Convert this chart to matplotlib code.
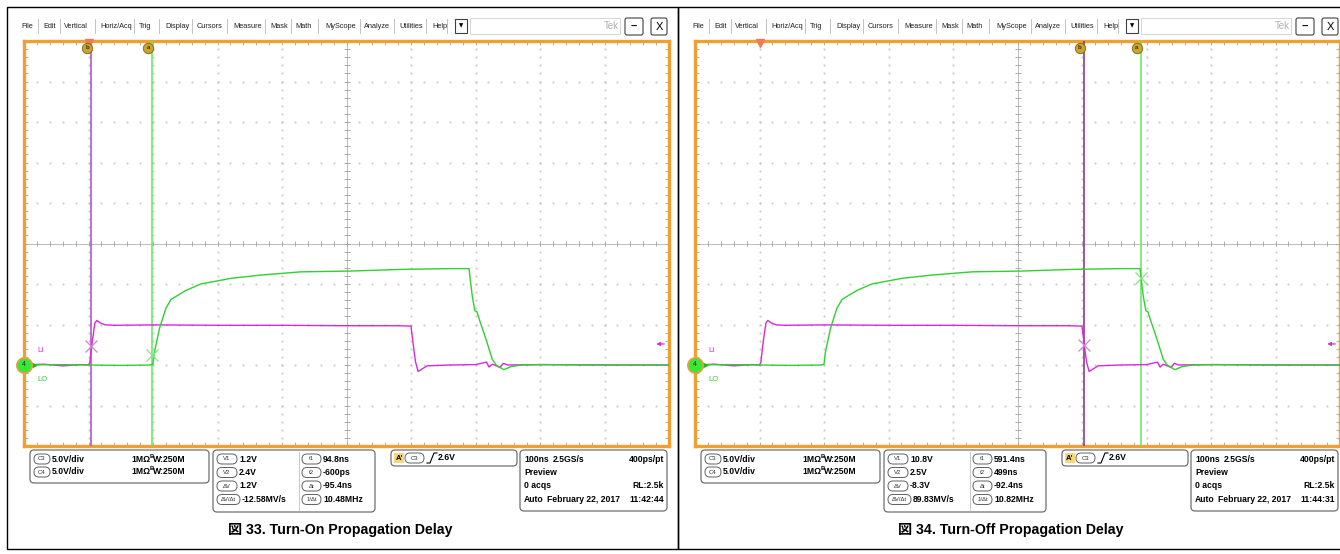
import numpy as np
import matplotlib
matplotlib.use("Agg")
import matplotlib.pyplot as plt
from matplotlib.patches import FancyBboxPatch, Rectangle
from matplotlib.collections import LineCollection

plt.rcParams['font.family'] = ['Liberation Sans', 'Noto Sans CJK JP', 'DejaVu Sans']

W, H = 1340, 554

# ---- waveform data (time in ns, level in V), same signals in both captures ----
mag_t = [-100, -70, -40, -10, 0, 2, 6, 10, 13, 18, 26, 40, 100, 200, 300, 400, 480, 500,
         503.5, 507, 511, 517, 525, 560, 600, 617, 621, 626, 638, 643, 650, 700, 800, 900]
mag_v = [0, 0.1, -0.1, 0.05, 0, 0.3, 3.0, 5.2, 5.5, 5.2, 4.95, 4.9, 4.95, 4.9, 4.9, 4.85, 4.85, 4.8,
         2.5, 0.4, -0.8, -0.5, -0.1, 0, 0.05, 0.35, -0.25, 0.1, -0.3, 0.2, 0, 0.05, 0, 0]

grn_t = [-100, -50, 0, 50, 96, 100, 102, 110, 120, 128, 151, 174, 221, 267, 329, 407, 484, 560, 590,
         591.5, 595, 599, 602, 606, 615, 626, 632, 644, 655, 671, 700, 800, 900]
grn_v = [0, 0.05, 0, -0.05, 0, 0.1, 1.5, 4.5, 7.0, 8.1, 9.2, 10.0, 10.7, 11.1, 11.5, 11.6, 11.8, 11.9, 11.9,
         10.8, 8.5, 6.7, 6.6, 5.6, 3.5, 0.7, 0, -0.58, -0.2, 0, 0.05, 0, 0]

# ---- per-capture settings ----
captions = ["図 33. Turn-On Propagation Delay", "図 34. Turn-Off Propagation Delay"]
cursor_b = [4, 503]
cursor_a = [99, 591]
mark_b_v = [2.4, 2.5]
mark_a_v = [1.2, 10.8]
cursor_b_color = ['#b048c8', '#842a8a']
readout_v = [["1.2V", "2.4V", "1.2V", "-12.58MV/s"], ["10.8V", "2.5V", "-8.3V", "89.83MV/s"]]
readout_t = [["94.8ns", "-600ps", "-95.4ns", "10.48MHz"], ["591.4ns", "499ns", "-92.4ns", "10.82MHz"]]
readout_v_tags = ["V1", "V2", "ΔV", "ΔV/Δt"]
readout_t_tags = ["t1", "t2", "Δt", "1/Δt"]
timestamps = ["11:42:44", "11:44:31"]

menu_items = ["File", "Edit", "Vertical", "Horiz/Acq", "Trig", "Display", "Cursors", "Measure",
              "Mask", "Math", "MyScope", "Analyze", "Utilities", "Help"]
menu_x = [21.5, 43, 64, 100, 139, 165, 197, 233, 270, 295.5, 325, 364, 399, 432]
sep_x = [38, 60, 94.5, 134, 159, 192, 227, 265, 291, 318, 360, 394, 426, 447]

MAG = '#d829d8'
GRN = '#2fd02f'
ORANGE = '#f0a030'
PANEL_DX = 671

fig = plt.figure(figsize=(W / 100, H / 100), dpi=100)
ov = fig.add_axes([0, 0, 1, 1])
ov.set_xlim(0, W)
ov.set_ylim(H, 0)
ov.axis('off')


def rbox(x0, y0, x1, y1, r=4, ec='#707070', fc='white', lw=0.9):
    ov.add_patch(FancyBboxPatch((x0, y0), x1 - x0, y1 - y0,
                                boxstyle=f"round,pad=0,rounding_size={r}",
                                fc=fc, ec=ec, lw=lw))


def tag(x0, x1, y, s):
    rbox(x0, y - 5, x1, y + 5, r=5, ec='#606060', lw=0.7)
    ov.text((x0 + x1) / 2, y, s, fontsize=4.3, ha='center', va='center', color='#303030')


def draw_frame(i):
    dx = PANEL_DX * i
    # outer border
    ov.add_patch(Rectangle((7 + dx, 7), 671, 542, fill=False, ec='black', lw=1.0))
    # menu bar
    for s, x in zip(menu_items, menu_x):
        ov.text(x + dx, 26, s, fontsize=5.3, va='center', color='#202020')
    for x in sep_x:
        ov.plot([x + dx, x + dx], [19, 33], color='#b8b8b8', lw=0.6)
    ov.add_patch(Rectangle((455 + dx, 19), 12, 14, fill=False, ec='#404040', lw=0.8))
    ov.text(461 + dx, 26, '▼', fontsize=4, ha='center', va='center', family='DejaVu Sans')
    ov.add_patch(Rectangle((470 + dx, 18), 150, 16, fill=False, ec='#d0d0d0', lw=0.6))
    ov.text(611 + dx, 26, 'Tek', fontsize=7, ha='center', va='center', color='#b0b0b0')
    rbox(625 + dx, 18, 643 + dx, 35, r=2, ec='#404040', lw=0.8)
    ov.text(634 + dx, 27, '–', fontsize=8, ha='center', va='center', weight='bold')
    rbox(651 + dx, 18, 667 + dx, 35, r=2, ec='#404040', lw=0.8)
    ov.text(659 + dx, 27, 'X', fontsize=8, ha='center', va='center')

    # channel box
    rbox(30 + dx, 450, 209 + dx, 483)
    for y, ch in zip([459, 472], ["C3", "C4"]):
        tag(34 + dx, 50 + dx, y, ch)
        ov.text(52 + dx, y, "5.0V/div", fontsize=6.2, weight='bold', va='center')
        ov.text(131 + dx, y, "1MΩ", fontsize=6.2, weight='bold', va='center')
        ov.text(150 + dx, y - 3, "B", fontsize=4.2, weight='bold', va='center')
        ov.text(153 + dx, y, "W:250M", fontsize=6.2, weight='bold', va='center')

    # cursor readout box
    rbox(213 + dx, 450, 375 + dx, 512)
    ov.plot([298.5 + dx, 298.5 + dx], [452, 510], color='#c0c0c0', lw=0.6)
    rows = [459, 472.5, 486, 499.5]
    for k, y in enumerate(rows):
        w = 23 if k == 3 else 20
        tag(217 + dx, 217 + w + dx, y, readout_v_tags[k])
        ov.text(219 + w + dx, y, readout_v[i][k], fontsize=6.2, weight='bold', va='center')
        tag(302 + dx, 321 + dx, y, readout_t_tags[k])
        ov.text(323 + dx, y, readout_t[i][k], fontsize=6.2, weight='bold', va='center')

    # trigger box
    rbox(391 + dx, 450, 517 + dx, 466)
    ov.add_patch(Rectangle((394 + dx, 453), 10, 10, fc='#f3d77a', ec='none'))
    ov.text(399 + dx, 458, "A'", fontsize=5.5, weight='bold', ha='center', va='center')
    tag(405 + dx, 424 + dx, 458, "C3")
    ov.plot(np.array([427, 430, 434, 437]) + dx, [463, 463, 453, 453], color='black', lw=0.8)
    ov.text(438 + dx, 458, "2.6V", fontsize=6.2, weight='bold', va='center')

    # horizontal / acquisition box
    rbox(520 + dx, 450, 667 + dx, 511)
    ov.text(524 + dx, 459, "100ns", fontsize=6.2, weight='bold', va='center')
    ov.text(553 + dx, 459, "2.5GS/s", fontsize=6.2, weight='bold', va='center')
    ov.text(664 + dx, 459, "400ps/pt", fontsize=6.2, weight='bold', va='center', ha='right')
    ov.text(524 + dx, 472.5, "Preview", fontsize=6.2, weight='bold', va='center')
    ov.text(524 + dx, 486, "0 acqs", fontsize=6.2, weight='bold', va='center')
    ov.text(664 + dx, 486, "RL:2.5k", fontsize=6.2, weight='bold', va='center', ha='right')
    ov.text(524 + dx, 499.5, "Auto", fontsize=6.2, weight='bold', va='center')
    ov.text(547 + dx, 499.5, "February 22, 2017", fontsize=6.2, weight='bold', va='center')
    ov.text(664 + dx, 499.5, timestamps[i], fontsize=6.2, weight='bold', va='center', ha='right')

    # caption
    ov.text(340 + dx, 530, captions[i], fontsize=10.2, weight='bold', ha='center', va='center')


def draw_scope(i):
    dx = PANEL_DX * i
    x0, y0, x1, y1 = 24 + dx, 41, 669 + dx, 446
    ax = fig.add_axes([x0 / W, 1 - y1 / H, (x1 - x0) / W, (y1 - y0) / H])
    ax.set_xlim(-100, 900)
    ax.set_ylim(-10, 40)
    ax.set_xticks([])
    ax.set_yticks([])
    for s in ax.spines.values():
        s.set_color(ORANGE)
        s.set_linewidth(2.4)
    npp = 100 / 64.5
    vpp = 5 / 40.6

    # dotted graticule
    tx = np.arange(-80, 900, 20)
    vy = np.arange(-9, 40, 1)
    for t in range(0, 900, 100):
        if t != 400:
            ax.plot(np.full(vy.size, t), vy, ls='none', marker='.', ms=1.0, color='#c6c6c6')
    for v in range(-5, 40, 5):
        if v != 15:
            ax.plot(tx, np.full(tx.size, v), ls='none', marker='.', ms=1.0, color='#c6c6c6')
    ax.axhline(15, color='#bcbcbc', lw=0.7)
    ax.axvline(400, color='#bcbcbc', lw=0.7)

    segs = []
    for t in np.arange(-100, 901, 20):
        segs.append([(t, 40), (t, 40 - 4 * vpp)])
        segs.append([(t, -10), (t, -10 + 4 * vpp)])
        segs.append([(t, 15 - 3 * vpp), (t, 15 + 3 * vpp)])
    for v in np.arange(-10, 41, 1):
        segs.append([(-100, v), (-100 + 4 * npp, v)])
        segs.append([(900, v), (900 - 4 * npp, v)])
        segs.append([(400 - 3 * npp, v), (400 + 3 * npp, v)])
    ax.add_collection(LineCollection(segs, colors='#a0a0a0', linewidths=0.6))

    # cursors
    ax.axvline(cursor_b[i], color=cursor_b_color[i], lw=1.1, zorder=3)
    ax.axvline(cursor_a[i], color='#5ee85e', lw=1.1, zorder=3)

    # traces
    ax.plot(mag_t, mag_v, color=MAG, lw=1.0, zorder=4)
    ax.plot(grn_t, grn_v, color=GRN, lw=1.0, zorder=5)

    # cursor crossing marks
    ax.plot(cursor_b[i], mark_b_v[i], marker='x', ms=9, mew=0.9, color='#c98ad0', zorder=6)
    ax.plot(cursor_a[i], mark_a_v[i], marker='x', ms=9, mew=0.9, color='#8ee08e', zorder=6)

    # cursor handles and trigger position
    ax.plot(0, 40 - 2.5 * vpp, marker='v', ms=6, color='#f07a5a', clip_on=False, zorder=7)
    for t, lab in [(cursor_b[i], 'b'), (cursor_a[i], 'a')]:
        ax.plot(t - 4 * npp, 40 - 7 * vpp, marker='o', ms=7.5, mfc='#caa62c', mec='#7a6012',
                mew=0.6, zorder=8)
        ax.text(t - 4 * npp, 40 - 7 * vpp, lab, fontsize=4.5, weight='bold', ha='center',
                va='center', color='#3a2c00', zorder=9)

    # ground / level markers
    ax.plot(-100 + 9 * npp, 0, marker='>', ms=4.5, color='#1fb81f', clip_on=False, zorder=8)
    ax.plot(-100, 0, marker='o', ms=11, mfc='#38e838', mec='#e8a040', mew=1.2, clip_on=False, zorder=9)
    ax.text(-100, 0, '4', fontsize=5, ha='center', va='center', color='#104010', zorder=10)
    ax.text(-80, 1.8, 'LI', fontsize=5.5, color=MAG, va='center')
    ax.text(-80, -1.8, 'LO', fontsize=5.5, color=GRN, va='center')
    ax.annotate('', xy=(876, 2.6), xytext=(897, 2.6),
                arrowprops=dict(arrowstyle='-|>', color=MAG, lw=0.9, mutation_scale=5))


for i in range(2):
    draw_frame(i)
for i in range(2):
    draw_scope(i)

fig.savefig('out.png', dpi=100)
